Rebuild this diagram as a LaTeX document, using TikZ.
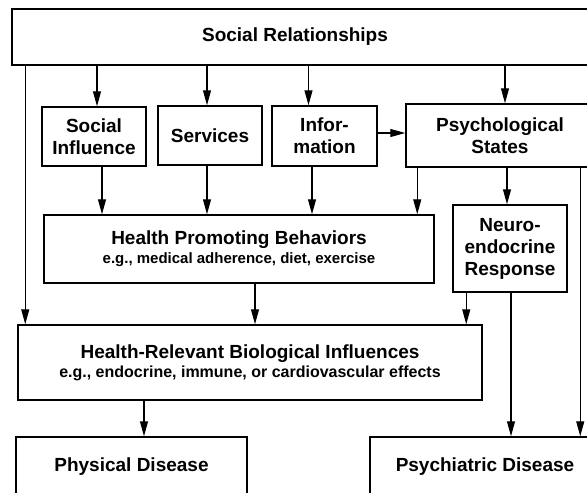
\documentclass[tikz,border=0pt]{standalone}
\usepackage{fontspec}
\setmainfont{Liberation Sans}
\usepackage{tikz}
\usetikzlibrary{arrows.meta}

\newcommand{\egfont}{\fontsize{16}{18}\selectfont}

\begin{document}
\begin{tikzpicture}[
  x=1pt, y=-1pt,
  box/.style={draw, line width=1.5pt, align=center, inner sep=2pt,
    font=\fontsize{19}{22}\selectfont\bfseries},
  arr/.style={-{Triangle[length=15pt, width=8pt]}, line width=1.1pt},
]
  % Frame (the figure is cut at the right and bottom)
  \useasboundingbox (0,0) rectangle (587,493);
  \clip (0,0) rectangle (587,493);

  % Top box
  \node[box, minimum width=608pt, minimum height=56pt] (SR) at (316,37) {\hspace*{-42pt}Social Relationships};

  % Second row
  \node[box, minimum width=104pt, minimum height=59pt] (SI) at (94,136.5) {Social\\Influence};
  \node[box, minimum width=104pt, minimum height=59pt] (SV) at (210,135.5) {Services};
  \node[box, minimum width=105pt, minimum height=60pt] (IN) at (324.5,136) {Infor-\\mation};
  \node[box, minimum width=188pt, minimum height=63pt] (PS) at (500,135.5) {Psychological\\States};

  % Third row
  \node[box, minimum width=390pt, minimum height=68pt] (HPB) at (239,249)
    {Health Promoting Behaviors\\[-3pt]{\fontsize{15}{18}\selectfont e.g., medical adherence, diet, exercise}};
  \node[box, minimum width=114pt, minimum height=87pt] (NE) at (510,248.5) {Neuro-\\endocrine\\Response};

  % Fourth row
  \node[box, minimum width=464pt, minimum height=75pt] (HRBI) at (250,362.5)
    {Health-Relevant Biological Influences\\[-3pt]{\egfont e.g., endocrine, immune, or cardiovascular effects}};

  % Outcomes
  \node[box, minimum width=231pt, minimum height=60pt] (PhD) at (131.5,467) {Physical Disease};
  \node[box, minimum width=230pt, minimum height=60pt] (PsD) at (485,467) {Psychiatric Disease};

  % Arrows from the top box
  \foreach \n/\dx in {SI/3pt, SV/-3pt, IN/-16pt, PS/5pt} {
    \draw[arr] ([xshift=\dx]\n.north |- SR.south) -- ([xshift=\dx]\n.north);
  }
  \draw[arr] ([xshift=14pt]SR.south west) -- ([xshift=14pt]SR.south west |- HRBI.north);
  \draw[arr] ([yshift=3pt]IN.east) -- ([yshift=3pt]IN.east -| PS.west);

  % Into health promoting behaviors
  \foreach \n/\dx in {SI/8pt, SV/-3pt, IN/-12.5pt} {
    \draw[arr] ([xshift=\dx]\n.south) -- ([xshift=\dx]\n.south |- HPB.north);
  }
  \draw[arr] ([xshift=12pt]PS.south west) -- ([xshift=12pt]PS.south west |- HPB.north);

  % Psychological states downwards
  \draw[arr] ([xshift=-3pt]NE.north |- PS.south) -- ([xshift=-3pt]NE.north);
  \draw[arr] ([xshift=175pt]PS.south west) -- ([xshift=175pt]PS.south west |- PsD.north);

  % Neuroendocrine response
  \draw[arr] ([xshift=14pt]NE.south west) -- ([xshift=14pt]NE.south west |- HRBI.north);
  \draw[arr] ([xshift=1pt]NE.south) -- ([xshift=1pt]NE.south |- PsD.north);

  % Lower arrows
  \draw[arr] ([xshift=16pt]HPB.south) -- ([xshift=16pt]HPB.south |- HRBI.north);
  \draw[arr] ([xshift=12.5pt]PhD.north |- HRBI.south) -- ([xshift=12.5pt]PhD.north);
\end{tikzpicture}
\end{document}
